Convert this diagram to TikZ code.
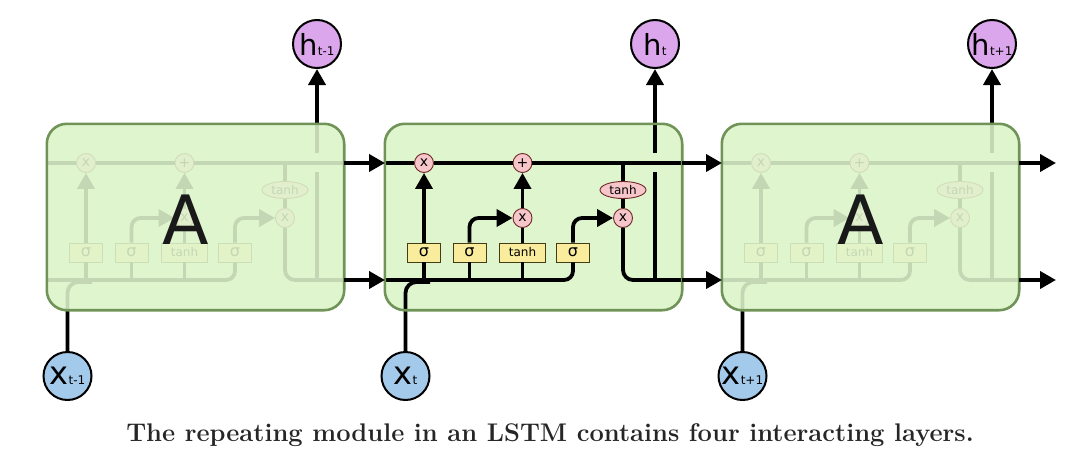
\documentclass[tikz,border=0pt]{standalone}
\usepackage{fontspec}
\newfontfamily\dvs{DejaVu Sans}
\usetikzlibrary{arrows.meta,shapes.geometric}
\definecolor{cellfill}{RGB}{223,245,206}
\definecolor{celldraw}{RGB}{112,148,88}
\definecolor{hfill}{RGB}{219,166,236}
\definecolor{xfill}{RGB}{163,201,235}
\definecolor{gatefill}{RGB}{246,198,202}
\definecolor{gatedraw}{RGB}{110,40,40}
\definecolor{layerfill}{RGB}{249,236,156}
\definecolor{layerdraw}{RGB}{70,60,20}
\begin{document}
\begin{tikzpicture}[x=1pt,y=-1pt,
  flow/.style={line width=3.8pt, black},
  arr/.style={flow, -{Triangle[length=16pt,width=17pt]}},
  cellbox/.style={rounded corners=20pt, fill=cellfill, minimum width=297pt, minimum height=186pt, inner sep=0pt},
  cellborder/.style={draw=celldraw, line width=2.6pt, rounded corners=20pt},
  pw/.style={circle, fill=gatefill, draw=gatedraw, line width=0.9pt, minimum size=19pt, inner sep=0pt, font=\dvs\fontsize{14}{14}\selectfont},
  tanhell/.style={ellipse, fill=gatefill, draw=gatedraw, line width=0.9pt, minimum width=46pt, minimum height=17pt, inner sep=0pt, font=\dvs\fontsize{12}{12}\selectfont},
  layer/.style={rectangle, fill=layerfill, draw=layerdraw, line width=0.9pt, minimum width=33pt, minimum height=19pt, inner sep=0pt, font=\dvs\fontsize{16}{16}\selectfont},
  hc/.style={circle, fill=hfill, draw=black, line width=2pt, minimum size=48pt, inner sep=0pt, font=\dvs},
  xc/.style={circle, fill=xfill, draw=black, line width=2pt, minimum size=48pt, inner sep=0pt, font=\dvs},
  bigA/.style={font=\dvs\fontsize{68}{68}\selectfont, text=black!90}
]
\useasboundingbox (0,0) rectangle (1071,458);
\foreach \n/\x/\s in {1/47/t-1, 2/385/t, 3/722/t+1}{
\begin{scope}[shift={(\x,0)}]
  \node[cellbox] (c\n) at (148.5,217) {};
  \coordinate (ti\n) at (0,163);
  \coordinate (to\n) at (297,163);
  \coordinate (bi\n) at (0,280);
  \coordinate (bo\n) at (297,280);
  \coordinate (hg\n) at (270,153);
  \coordinate (hl\n) at (270,172);
  \coordinate (xj\n) at (45,282);
  \node[pw] (f\n) at (39,163) {x};
  \node[pw] (a\n) at (137.5,163) {+};
  \node[pw] (im\n) at (137.5,218) {x};
  \node[pw] (om\n) at (238,218) {x};
  \node[tanhell] (te\n) at (238,190) {tanh};
  \node[layer] (sa\n) at (39,252.5) {σ};
  \node[layer] (sb\n) at (84.5,252.5) {σ};
  \node[layer, minimum width=46pt, font=\dvs\fontsize{12}{12}\selectfont] (tb\n) at (137.5,252.5) {tanh};
  \node[layer] (sc\n) at (188,252.5) {σ};
  \node[hc] (h\n) at (270,44) {{\fontsize{29}{29}\selectfont h}{\fontsize{12}{12}\selectfont \s}};
  \node[xc] (x\n) at (20.5,376) {{\fontsize{32}{32}\selectfont x}{\fontsize{12}{12}\selectfont \s}};
  % cell state line
  \draw[flow] (ti\n) -- (f\n) -- (a\n) -- (to\n);
  % hidden / input line
  \draw[flow, rounded corners=9pt] (bi\n) -- (bi\n -| sc\n) -- (sc\n);
  \draw[flow, rounded corners=11pt] (x\n) |- (xj\n);
  \draw[flow] (sa\n) -- (sa\n |- bi\n);
  \draw[flow] (sb\n) -- (sb\n |- bi\n);
  \draw[flow] (tb\n) -- (tb\n |- bi\n);
  \draw[arr] (sa\n) -- (f\n);
  \draw[arr, rounded corners=9pt] (sb\n) |- (im\n);
  \draw[flow] (tb\n) -- (im\n);
  \draw[arr] (im\n) -- (a\n);
  \draw[arr, rounded corners=9pt] (sc\n) |- (om\n);
  \draw[flow] (te\n) -- (te\n |- ti\n);
  \draw[flow] (te\n) -- (om\n);
  \draw[flow, rounded corners=10pt] (om\n) |- (bo\n);
  \draw[flow] (hl\n) -- (hl\n |- bo\n);
  \draw[arr] (hg\n) -- (h\n);
  \ifnum\n=2\else
    \fill[cellfill, fill opacity=0.88, rounded corners=20pt] (c\n.south west) rectangle (c\n.north east);
  \fi
  \draw[cellborder] (c\n.south west) rectangle (c\n.north east);
  \ifnum\n=2\else
    \node[bigA] (A\n) at (138.5,220) {A};
  \fi
\end{scope}
}
\coordinate (e1) at (1056,163);
\coordinate (e2) at (1056,280);
\draw[arr] (to1) -- (ti2);
\draw[arr] (bo1) -- (bi2);
\draw[arr] (to2) -- (ti3);
\draw[arr] (bo2) -- (bi3);
\draw[arr] (to3) -- (e1);
\draw[arr] (bo3) -- (e2);
\node[font=\bfseries\fontsize{25.5}{30}\selectfont, text=black!85, anchor=base] (cap) at (550,441) {The repeating module in an LSTM contains four interacting layers.};
\end{tikzpicture}
\end{document}
